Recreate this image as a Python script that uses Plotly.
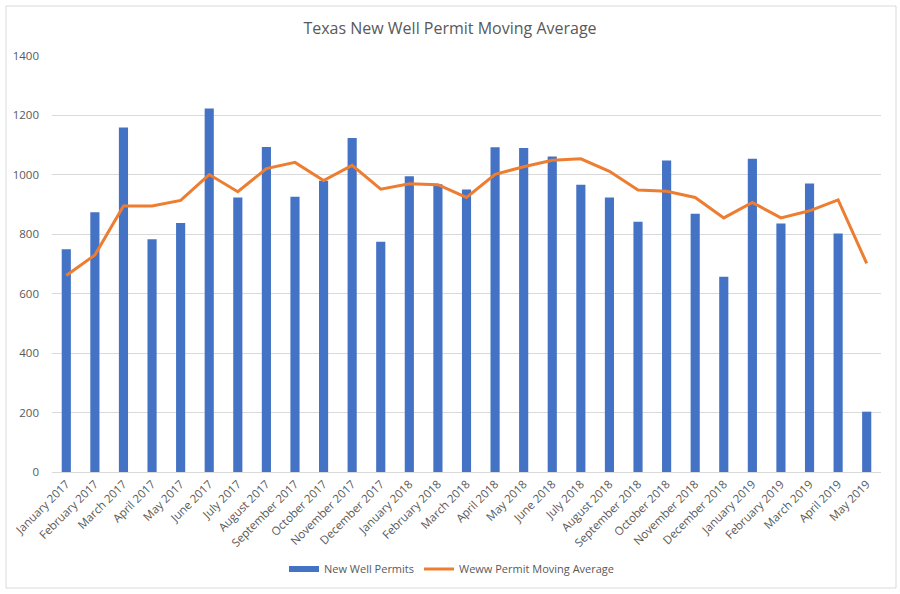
import plotly.graph_objects as go

months = ["January 2017", "February 2017", "March 2017", "April 2017", "May 2017", "June 2017",
          "July 2017", "August 2017", "September 2017", "October 2017", "November 2017", "December 2017",
          "January 2018", "February 2018", "March 2018", "April 2018", "May 2018", "June 2018",
          "July 2018", "August 2018", "September 2018", "October 2018", "November 2018", "December 2018",
          "January 2019", "February 2019", "March 2019", "April 2019", "May 2019"]

new_well_permits = [750, 874, 1159, 783, 838, 1223, 924, 1094, 926, 980, 1124, 775,
                    995, 968, 951, 1093, 1090, 1062, 967, 924, 842, 1048, 869, 657,
                    1054, 836, 971, 803, 203]

moving_average = [661, 730, 895, 895, 914, 1001, 943, 1021, 1042, 981, 1032, 952,
                  970, 967, 924, 1002, 1027, 1049, 1054, 1012, 949, 945, 924, 855,
                  907, 855, 879, 916, 702]

y_ticks = [0, 200, 400, 600, 800, 1000, 1200, 1400]

font_fam = "Open Sans, Liberation Sans, sans-serif"
gray = "#595959"
blue = "#4472C4"

fig = go.Figure()
fig.add_trace(go.Bar(x=months, y=new_well_permits, name="New Well Permits",
                     legendgroup="bars", showlegend=False,
                     marker=dict(color=blue, line=dict(width=0))))
# legend swatch styled as a wide rectangle (Excel style)
fig.add_trace(go.Scatter(x=[months[0]], y=[None], name="New Well Permits", legendgroup="bars",
                         mode="lines", line=dict(color=blue, width=6), hoverinfo="skip"))
fig.add_trace(go.Scatter(x=months, y=moving_average, name="Weww Permit Moving Average",
                         mode="lines", line=dict(color="#ED7D31", width=3)))

L, R, T, B = 52, 881, 56, 472
W, H = R - L, B - T

def px(x):
    return (x - L) / W

def py(y):
    return (B - y) / H

fig.update_layout(
    width=900, height=594,
    margin=dict(l=L, r=900 - R, t=T, b=594 - B, pad=0, autoexpand=False),
    paper_bgcolor="white", plot_bgcolor="white",
    font=dict(family=font_fam, color=gray, size=11),
    title=dict(text="Texas New Well Permit Moving Average", x=0.5, xanchor="center",
               xref="container", yref="container",
               y=1 - 28 / 594, yanchor="middle", font=dict(size=16, color=gray, family=font_fam)),
    bargap=0.68,
    showlegend=True,
    legend=dict(orientation="h", x=px(452), xanchor="center", y=py(569), yanchor="middle",
                font=dict(size=11, color=gray), traceorder="normal", itemwidth=30),
    shapes=[dict(type="rect", xref="paper", yref="paper", x0=px(6), x1=px(896), y0=py(588), y1=py(6),
                 line=dict(color="#d9d9d9", width=1), layer="below")],
)
fig.update_xaxes(tickangle=-45, showgrid=False, showline=True, linecolor="#d9d9d9",
                 ticks="", automargin=False, tickfont=dict(size=11.5, color=gray))
fig.update_yaxes(range=[0, 1400], tickvals=y_ticks, showgrid=True, gridcolor="#d9d9d9",
                 zeroline=False, showline=False, ticks="", ticklabelstandoff=12, automargin=False,
                 tickfont=dict(size=11.5, color=gray))

fig.write_html("out.html", config={"displayModeBar": False},
               post_script="document.body.style.margin='0';document.body.style.overflow='hidden';")
